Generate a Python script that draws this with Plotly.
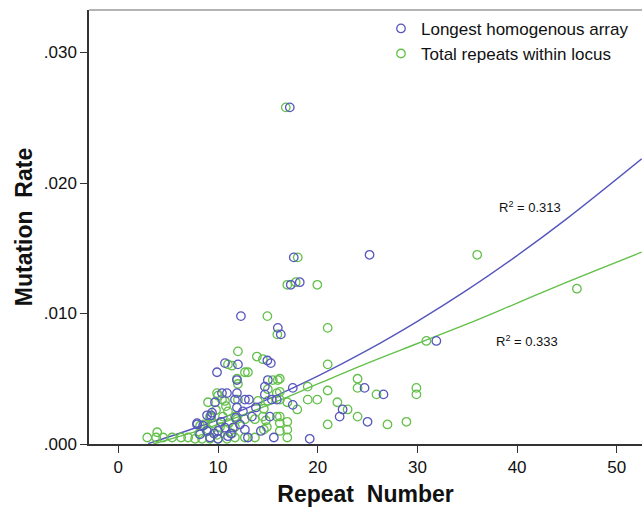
import plotly.graph_objects as go

# ---- data ----
blue_x = [17.2, 17.6, 17.3, 18.2, 25.2, 16.0, 16.3, 31.9, 12.3, 17.5, 24.7, 26.6, 17.5,
          22.5, 22.2, 25.0, 19.2, 15.3, 14.95, 10.7, 12.0, 9.9, 15.0, 14.7, 10.4, 10.9,
          11.9, 14.7, 11.9, 9.7, 11.7, 12.7, 13.1, 15.4, 15.9, 11.9, 13.4, 15.2, 12.7,
          15.6, 7.9, 9.3, 7.9, 8.5, 8.9, 8.2, 9.2, 10.0, 10.7, 11.0, 11.5, 8.9, 9.4,
          10.3, 11.3, 12.2, 13.0, 11.8, 9.6, 10.0, 12.5, 13.8, 14.3]
blue_y = [0.0258, 0.0143, 0.0122, 0.0124, 0.0145, 0.0089, 0.0084, 0.0079, 0.0098, 0.0043,
          0.0043, 0.0038, 0.0030, 0.00265, 0.0021, 0.0017, 0.0004, 0.0062, 0.0064, 0.0062,
          0.0061, 0.0055, 0.0049, 0.0044, 0.0039, 0.0039, 0.0039, 0.0038, 0.0049, 0.0032,
          0.0034, 0.0034, 0.0034, 0.0034, 0.0034, 0.0028, 0.0021, 0.0021, 0.0011, 0.0005,
          0.0015, 0.0022, 0.0016, 0.0014, 0.0010, 0.00074, 0.0005, 0.0010, 0.00125, 0.0006,
          0.00125, 0.0022, 0.0024, 0.0017, 0.0008, 0.0015, 0.0005, 0.0020, 0.0008, 0.0004,
          0.0025, 0.0028, 0.0010]

green_x = [16.8, 18.0, 16.95, 17.8, 19.96, 36.0, 21.0, 46.0, 30.9, 21.0, 16.2, 19.0, 21.0,
           24.0, 24.0, 25.9, 29.9, 29.9, 16.2, 16.2, 16.95, 17.95, 19.0, 19.96, 21.97, 23.0,
           24.0, 21.0, 27.0, 28.9, 16.95, 16.95, 16.95, 16.2, 16.2, 16.2, 14.95, 15.95, 12.0,
           13.9, 14.5, 11.0, 11.4, 12.7, 13.0, 11.9, 12.0, 15.5, 16.0, 15.0, 9.9, 15.9, 9.0,
           10.7, 8.2, 9.2, 2.9, 3.8, 3.9, 4.5, 5.4, 6.3, 7.0, 9.3, 10.0, 10.4, 12.0, 14.0,
           15.0, 11.7, 11.9, 12.7, 13.7, 14.5, 14.8, 15.9, 11.7, 11.7, 12.7, 13.7, 14.6, 14.9,
           7.7, 8.4, 9.2, 10.0, 10.9, 8.1, 9.0, 9.9, 10.8, 8.6, 9.5, 10.2, 11.1, 11.4, 10.5,
           11.0, 10.8, 9.8, 14.6]
green_y = [0.0258, 0.0143, 0.0122, 0.0124, 0.0122, 0.0145, 0.0089, 0.0119, 0.0079, 0.0061,
           0.0050, 0.0044, 0.0041, 0.0050, 0.0043, 0.0038, 0.0043, 0.0038, 0.0040, 0.0034,
           0.0032, 0.00265, 0.0034, 0.0034, 0.0032, 0.00265, 0.0021, 0.0015, 0.0015, 0.0017,
           0.0017, 0.0011, 0.0005, 0.0021, 0.0016, 0.0010, 0.0098, 0.0084, 0.0071, 0.0067,
           0.0065, 0.0061, 0.0060, 0.0055, 0.0055, 0.0050, 0.0046, 0.0049, 0.0049, 0.0042,
           0.0039, 0.0039, 0.0032, 0.0033, 0.0014, 0.0021, 0.0005, 0.0005, 0.0009, 0.0005,
           0.0005, 0.0005, 0.0005, 0.0020, 0.0037, 0.0034, 0.0034, 0.0033, 0.0033, 0.0021,
           0.0019, 0.0019, 0.0019, 0.0021, 0.0018, 0.0021, 0.0013, 0.0005, 0.0005, 0.0005,
           0.0011, 0.0013, 0.0004, 0.0004, 0.0004, 0.0004, 0.0004, 0.0008, 0.0011, 0.0007,
           0.0011, 0.0015, 0.0016, 0.0013, 0.0016, 0.0008, 0.0021, 0.0025, 0.0029, 0.0026,
           0.0027]

# fitted curves
fit_blue_x = [3.0, 10, 16, 20, 25, 30, 35, 40, 45, 52.5]
fit_blue_y = [0.00003, 0.00186, 0.00377, 0.00520, 0.00719, 0.00940, 0.01181, 0.01444, 0.01727, 0.02185]
fit_green_x = [3.5, 10, 16, 20, 25, 30, 35, 40, 45, 52.5]
fit_green_y = [0.0, 0.0015, 0.0033, 0.0046, 0.0062, 0.0077, 0.0092, 0.0108, 0.0124, 0.0147]

r2_labels = ["R<sup>2</sup> = 0.313", "R<sup>2</sup> = 0.333"]
r2_pos_x = [41.3, 41.0]
r2_pos_y = [0.0182, 0.0079]

x_ticks = [0, 10, 20, 30, 40, 50]
y_ticks = [0.0, 0.01, 0.02, 0.03]
y_tick_text = [".000", ".010", ".020", ".030"]

BLUE = "#5656bd"
GREEN = "#63c04a"
FONT = "Liberation Sans, Arial, sans-serif"

fig = go.Figure()
fig.add_trace(go.Scatter(x=fit_blue_x, y=fit_blue_y, mode="lines", line=dict(color=BLUE, width=1.4, shape="spline"),
                         showlegend=False, hoverinfo="skip"))
fig.add_trace(go.Scatter(x=fit_green_x, y=fit_green_y, mode="lines", line=dict(color=GREEN, width=1.4, shape="spline"),
                         showlegend=False, hoverinfo="skip"))
fig.add_trace(go.Scatter(x=green_x, y=green_y, mode="markers", name="Total repeats within locus",
                         marker=dict(symbol="circle-open", size=8.5, color=GREEN, line=dict(width=1.3)),
                         legendrank=2))
fig.add_trace(go.Scatter(x=blue_x, y=blue_y, mode="markers", name="Longest homogenous array",
                         marker=dict(symbol="circle-open", size=8.5, color=BLUE, line=dict(width=1.3)),
                         legendrank=1))

for t, xx, yy in zip(r2_labels, r2_pos_x, r2_pos_y):
    fig.add_annotation(x=xx, y=yy, text=t, showarrow=False, font=dict(family=FONT, size=13, color="#111"))

fig.add_shape(type="line", xref="paper", yref="paper", x0=0, x1=1, y0=1, y1=1,
              line=dict(color="#9a9a9a", width=1.5))

fig.update_layout(
    width=642, height=512,
    margin=dict(l=89, r=0, t=10, b=68),
    paper_bgcolor="white", plot_bgcolor="white",
    font=dict(family=FONT, color="#111"),
    legend=dict(x=0.528, y=0.998, xanchor="left", yanchor="top", bgcolor="rgba(0,0,0,0)",
                font=dict(family=FONT, size=17, color="#111"), itemwidth=30, traceorder="normal"),
    xaxis=dict(range=[-2.94, 52.53], tickvals=x_ticks, ticks="outside", ticklen=7, tickcolor="#333",
               showline=True, linecolor="#333", linewidth=1.5, showgrid=False, zeroline=False,
               tickfont=dict(family=FONT, size=17, color="#111"),
               title=dict(text="Repeat  Number", font=dict(family=FONT, size=23, color="#111", weight="bold"), standoff=10)),
    yaxis=dict(range=[0, 0.03326], tickvals=y_ticks, ticktext=y_tick_text, ticks="outside", ticklen=7,
               tickcolor="#333", showline=True, linecolor="#333", linewidth=1.5, showgrid=False, zeroline=False,
               tickfont=dict(family=FONT, size=17, color="#111"),
               title=dict(text="Mutation  Rate", font=dict(family=FONT, size=23, color="#111", weight="bold"), standoff=5)),
)

fig.write_html("out.html")
